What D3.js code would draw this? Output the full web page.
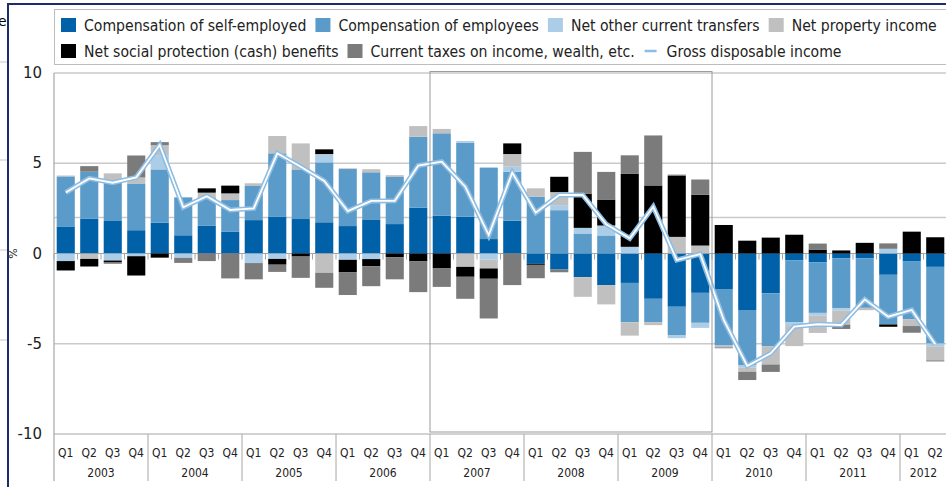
<!DOCTYPE html>
<html>
<head>
<style>
  body {
    margin: 0;
    background-color: #ffffff;
  }
  svg {
    display: block;
  }
</style>
<script src="https://d3js.org/d3.v7.min.js"></script>
</head>
<body>
<script>
  // quarterly data, 2003Q1 - 2012Q2, contributions in percentage points
  const years = ['2003', '2004', '2005', '2006', '2007', '2008', '2009', '2010', '2011', '2012'];
  const quarterLabels = ['Q1', 'Q2', 'Q3', 'Q4'];
  const yTicks = [-10, -5, 0, 5, 10];

  const selfEmployed = [1.50, 1.92, 1.80, 1.29, 1.71, 1.01, 1.55, 1.20, 1.85, 2.05,
    1.91, 1.73, 1.52, 1.89, 1.63, 2.54, 2.10, 2.04, 0.80, 1.82,
    -0.57, -0.89, -1.31, -1.75, -1.63, -2.51, -2.95, -2.18, -2.00, -3.13,
    -2.21, -0.37, -0.48, -0.26, -0.26, -1.18, -0.42, -0.74];
  const employees = [2.77, 2.61, 2.18, 2.59, 2.95, 2.10, 1.56, 1.76, 1.89, 3.50,
    2.75, 3.32, 3.16, 2.61, 2.61, 3.93, 4.56, 4.10, 3.96, 2.71,
    3.15, 2.40, 1.11, 1.00, -2.18, -1.29, -1.59, -1.66, -3.10, -3.05,
    -2.92, -3.43, -2.81, -2.77, -2.75, -2.75, -3.23, -4.25];
  const otherTransfers = [-0.42, 0, -0.39, -0.15, 0.79, -0.24, 0, 0, -0.53, -0.30,
    0, 0.46, -0.35, -0.31, 0, 0, 0, 0.09, -0.33, 0.28,
    0, 0.28, 0.31, 0.55, 0.37, 0, -0.15, -0.28, 0, -0.13,
    0, -0.22, -0.15, -0.13, 0, 0.26, 0, -0.15];
  const propertyIncome = [0.05, -0.30, 0.46, 0.33, 0.55, 0, 0.26, 0.37, 0.15, 0.96,
    1.44, -1.07, 0.04, 0.17, 0.10, 0.59, 0.24, -0.74, -0.50, 0.70,
    0.46, 0.72, -1.09, -1.07, -0.74, -0.17, 0.92, 0.44, -0.10, -0.24,
    -1.02, -1.11, -0.96, -0.78, -0.13, 0, -0.37, -0.78];
  const socialBenefits = [-0.52, -0.42, -0.08, -1.07, -0.23, 0, 0.24, 0.43, 0, -0.32,
    -0.17, 0.26, -0.68, -0.39, -0.20, -0.44, -0.83, -0.55, -0.57, 0.59,
    -0.06, 0.85, 1.90, 1.44, 4.04, 3.77, 3.40, 2.81, 1.58, 0.71,
    0.88, 1.04, 0.22, 0.17, 0.59, -0.13, 1.21, 0.90];
  const currentTaxes = [0, 0.31, -0.10, 1.22, 0.17, -0.28, -0.42, -1.38, -0.90, -0.40,
    -1.18, -0.83, -1.27, -1.11, -1.23, -1.70, -1.02, -1.22, -2.20, -1.75,
    -0.74, -0.15, 2.31, 1.53, 1.03, 2.77, 0.05, 0.85, -0.05, -0.46,
    -0.41, 0, 0.33, -0.24, 0, 0.30, -0.37, -0.06];
  const grossDisposable = [3.38, 4.16, 3.92, 4.22, 6.01, 2.56, 3.17, 2.41, 2.50, 5.55,
    4.81, 4.02, 2.35, 2.91, 2.92, 4.87, 5.09, 3.70, 1.02, 4.48,
    2.26, 3.24, 3.24, 1.62, 0.84, 2.59, -0.36, -0.03, -3.68, -6.23,
    -5.53, -4.05, -3.92, -3.96, -2.54, -3.50, -3.13, -5.03];

  const seriesNames = [
    'Compensation of self-employed',
    'Compensation of employees',
    'Net other current transfers',
    'Net property income',
    'Net social protection (cash) benefits',
    'Current taxes on income, wealth, etc.',
  ];
  const lineName = 'Gross disposable income';
  const highlightYears = ['2007', '2009'];

  const colors = ['#0061a8', '#5b9bc9', '#abcde8', '#c0c0c0', '#000000', '#7b7b7b'];
  const lineColor = '#8fbde2';

  // build the table the stack needs
  const periods = [];
  years.forEach((y) => quarterLabels.forEach((q) => periods.push(y + q)));
  periods.length = selfEmployed.length;
  const allSeries = [selfEmployed, employees, otherTransfers, propertyIncome, socialBenefits, currentTaxes];
  const table = periods.map((p, i) => {
    const row = { period: p };
    seriesNames.forEach((name, k) => { row[name] = allSeries[k][i]; });
    return row;
  });

  const width = 946;
  const height = 487;
  const plot = { left: 54, right: 947, top: 73, bottom: 434 };

  const svg = d3.select('body')
    .append('svg')
    .attr('width', width)
    .attr('height', height);

  const x = d3.scaleBand()
    .domain(periods)
    .range([plot.left, plot.right])
    .paddingInner(0.23)
    .paddingOuter(0.115);

  const y = d3.scaleLinear()
    .domain([-10, 10])
    .range([plot.bottom, plot.top]);

  const boundary = (p) => x(p) - (x.step() - x.bandwidth()) / 2;

  // page edge leftovers
  svg.append('line')
    .attr('x1', 8).attr('x2', width).attr('y1', 4).attr('y2', 4)
    .attr('stroke', '#1c2c6a').attr('stroke-width', 2);
  svg.append('line')
    .attr('x1', 8).attr('x2', 8).attr('y1', 3).attr('y2', height)
    .attr('stroke', '#1c2c6a').attr('stroke-width', 2);
  [62, 160, 250, 340].forEach((yy) => {
    svg.append('line')
      .attr('x1', 0).attr('x2', 7).attr('y1', yy).attr('y2', yy)
      .attr('stroke', '#c8c8c8').attr('stroke-width', 1);
  });
  svg.append('text')
    .attr('x', -2).attr('y', 26)
    .attr('font-family', 'DejaVu Sans').attr('font-size', 14)
    .text('e');

  // gridlines
  const grid = svg.append('g');
  [10, 5, 2, -5].forEach((v) => {
    grid.append('line')
      .attr('x1', plot.left).attr('x2', plot.right)
      .attr('y1', y(v)).attr('y2', y(v))
      .attr('stroke', '#cacaca').attr('stroke-width', 1.5);
  });

  // zero line with ticks between quarters
  grid.append('line')
    .attr('x1', plot.left).attr('x2', plot.right)
    .attr('y1', y(0)).attr('y2', y(0))
    .attr('stroke', '#a6a6a6').attr('stroke-width', 1.2);
  grid.selectAll('.zt')
    .data(periods)
    .join('line')
    .attr('x1', (d) => boundary(d)).attr('x2', (d) => boundary(d))
    .attr('y1', y(0)).attr('y2', y(0) + 6)
    .attr('stroke', '#a6a6a6');

  // stacked bars
  const stack = d3.stack()
    .keys(seriesNames)
    .offset(d3.stackOffsetDiverging);
  const stacked = stack(table);

  svg.append('g')
    .selectAll('g')
    .data(stacked)
    .join('g')
    .attr('fill', (d, i) => colors[i])
    .selectAll('rect')
    .data((d) => d)
    .join('rect')
    .attr('x', (d) => x(d.data.period))
    .attr('width', x.bandwidth())
    .attr('y', (d) => y(Math.max(d[0], d[1])))
    .attr('height', (d) => Math.abs(y(d[0]) - y(d[1])));

  // gross disposable income line: blue outline, white core
  const line = d3.line()
    .x((d, i) => x(periods[i]) + x.bandwidth() / 2)
    .y((d) => y(d));
  svg.append('path')
    .datum(grossDisposable)
    .attr('d', line)
    .attr('fill', 'none')
    .attr('stroke', lineColor)
    .attr('stroke-width', 5)
    .attr('stroke-linejoin', 'miter');
  svg.append('path')
    .datum(grossDisposable)
    .attr('d', line)
    .attr('fill', 'none')
    .attr('stroke', '#ffffff')
    .attr('stroke-width', 1.8);

  // highlighted crisis period
  const hx0 = boundary(highlightYears[0] + 'Q1');
  const hx1 = boundary(highlightYears[1] + 'Q4') + x.step();
  svg.append('rect')
    .attr('x', hx0).attr('y', plot.top - 1.5)
    .attr('width', hx1 - hx0).attr('height', plot.bottom - plot.top - 0.5)
    .attr('fill', 'none')
    .attr('stroke', '#9c9c9c')
    .attr('stroke-width', 1);

  // axes lines
  svg.append('line')
    .attr('x1', plot.left).attr('x2', plot.left)
    .attr('y1', plot.top).attr('y2', 481)
    .attr('stroke', '#a6a6a6').attr('stroke-width', 1.2);
  svg.append('line')
    .attr('x1', plot.left).attr('x2', plot.right)
    .attr('y1', plot.bottom).attr('y2', plot.bottom)
    .attr('stroke', '#a6a6a6').attr('stroke-width', 1.2);

  // y tick labels
  svg.append('g')
    .selectAll('text')
    .data(yTicks)
    .join('text')
    .attr('x', 42)
    .attr('y', (d) => y(d) + 5)
    .attr('text-anchor', 'end')
    .attr('font-family', 'DejaVu Sans')
    .attr('font-size', 15)
    .attr('fill', '#222')
    .text((d) => d);

  svg.append('text')
    .attr('transform', `translate(17, ${y(0)}) rotate(-90)`)
    .attr('text-anchor', 'middle')
    .attr('font-family', 'DejaVu Sans')
    .attr('font-size', 11)
    .attr('fill', '#222')
    .text('%');

  const narrow = '"DejaVu Sans Condensed", "Liberation Sans Narrow", "Roboto Condensed", Roboto, sans-serif';

  // quarter labels
  svg.append('g')
    .selectAll('text')
    .data(periods)
    .join('text')
    .attr('x', (d) => x(d) + x.bandwidth() / 2)
    .attr('y', 457)
    .attr('text-anchor', 'middle')
    .attr('font-family', narrow)
    .attr('font-size', 12)
    .attr('fill', '#222')
    .text((d) => d.slice(4));

  // year labels and separators
  years.forEach((yr) => {
    const qs = periods.filter((p) => p.startsWith(yr));
    const x0 = boundary(qs[0]);
    const x1 = boundary(qs[qs.length - 1]) + x.step();
    svg.append('text')
      .attr('x', (x0 + x1) / 2)
      .attr('y', 477)
      .attr('text-anchor', 'middle')
      .attr('font-family', narrow)
      .attr('font-size', 12)
      .attr('fill', '#222')
      .text(yr);
    svg.append('line')
      .attr('x1', x1).attr('x2', x1)
      .attr('y1', plot.bottom).attr('y2', 481)
      .attr('stroke', '#a6a6a6');
  });

  // legend
  const legend = svg.append('g');
  legend.append('rect')
    .attr('x', 54.5).attr('y', 9.5)
    .attr('width', 900).attr('height', 55)
    .attr('fill', '#fff')
    .attr('stroke', '#bdbdbd');

  const legendItems = seriesNames.map((name, i) => ({ name, color: colors[i], type: 'box' }));
  legendItems.push({ name: lineName, color: lineColor, type: 'line' });
  const rows = [legendItems.slice(0, 4), legendItems.slice(4)];

  // size the legend font so the first row's labels take the room they take in the original
  const probeWidth = rows[0].reduce((sum, item) => {
    const probe = svg.append('text')
      .attr('font-family', narrow)
      .attr('font-size', 16)
      .text(item.name);
    const w = probe.node().getComputedTextLength();
    probe.remove();
    return sum + w;
  }, 0);
  const legendFont = 16 * 757 / probeWidth;

  rows.forEach((row, r) => {
    let cx = 61;
    const cy = r === 0 ? 18 : 44;
    row.forEach((item) => {
      if (item.type === 'box') {
        legend.append('rect')
          .attr('x', cx).attr('y', cy)
          .attr('width', 15).attr('height', 14)
          .attr('fill', item.color);
      } else {
        legend.append('line')
          .attr('x1', cx + 1).attr('x2', cx + 13)
          .attr('y1', cy + 7).attr('y2', cy + 7)
          .attr('stroke', item.color).attr('stroke-width', 2.5);
      }
      const t = legend.append('text')
        .attr('x', cx + 23)
        .attr('y', cy + 13)
        .attr('font-family', narrow)
        .attr('font-size', legendFont)
        .attr('fill', '#222')
        .text(item.name);
      cx += 23 + t.node().getComputedTextLength() + 9;
    });
  });
</script>
</body>
</html>
